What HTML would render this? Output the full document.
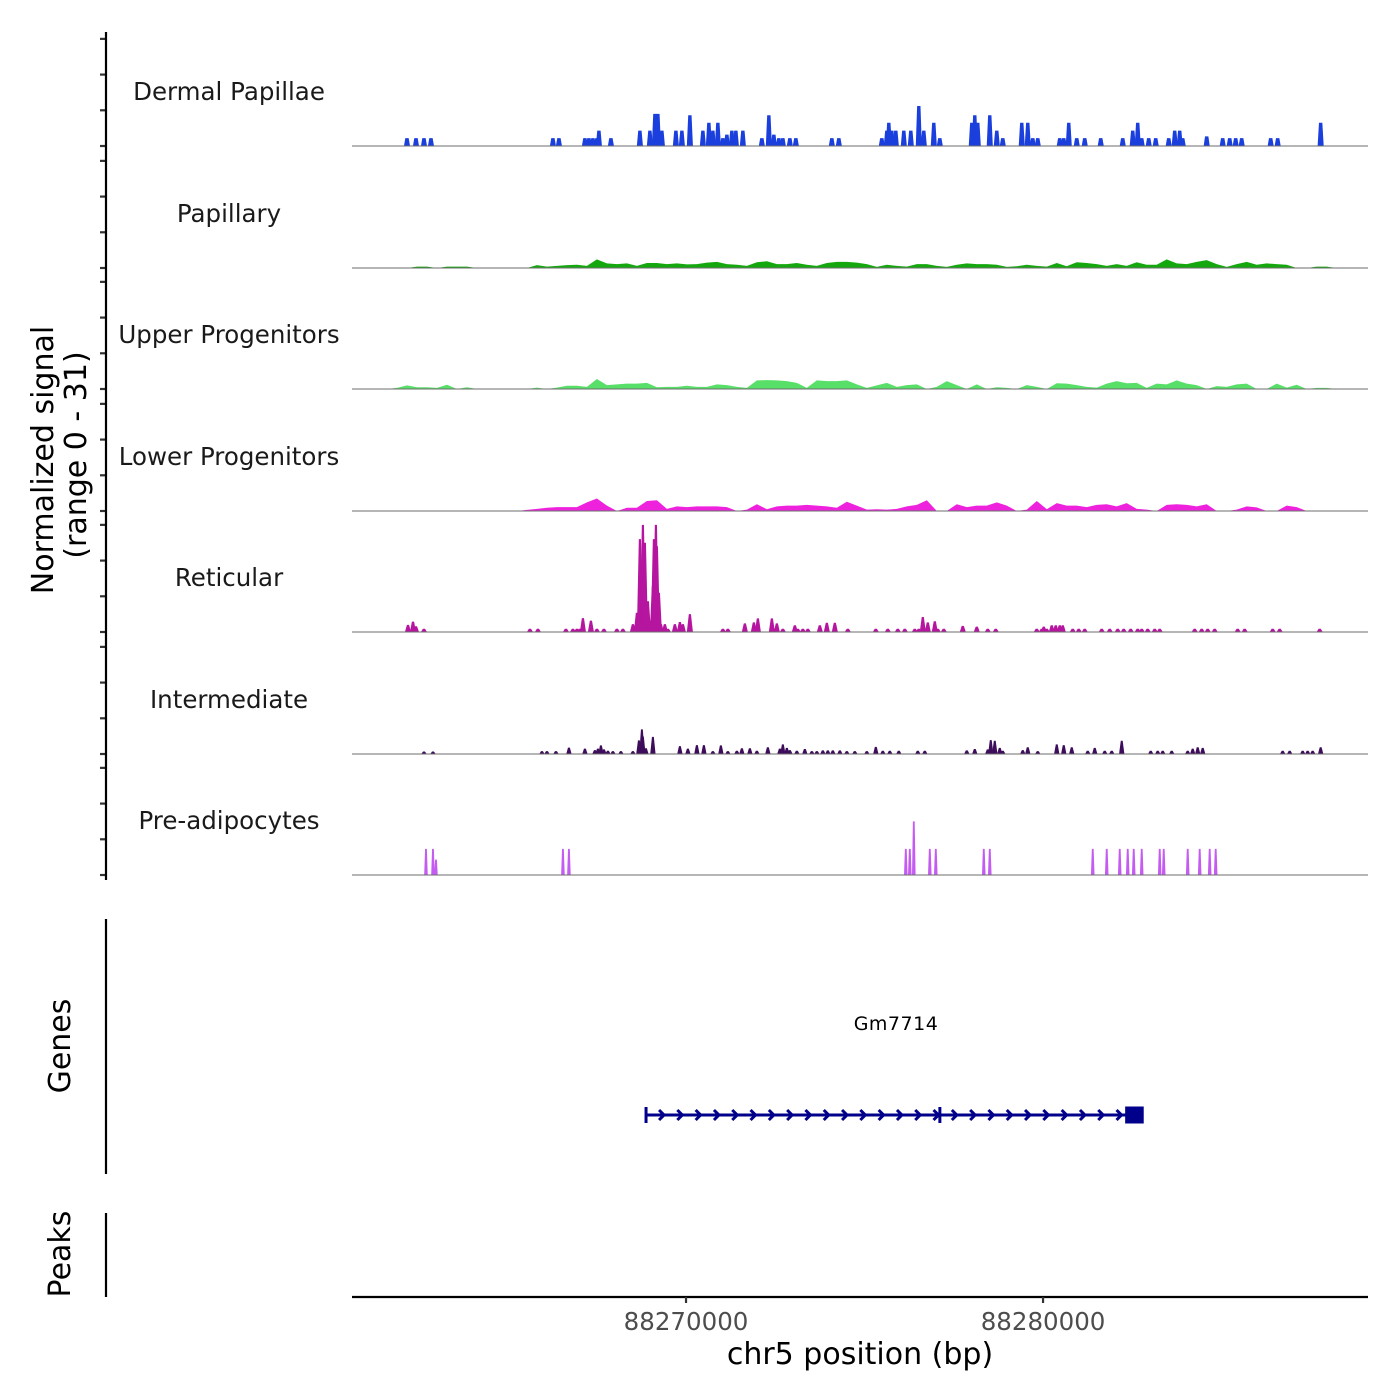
<!DOCTYPE html>
<html><head><meta charset="utf-8"><style>
html,body{margin:0;padding:0;background:#fff;}
svg{display:block;font-family:"DejaVu Sans","Liberation Sans",sans-serif;}
</style></head><body>
<svg id="chart" width="1400" height="1400" viewBox="0 0 1400 1400" xmlns="http://www.w3.org/2000/svg">
<rect width="1400" height="1400" fill="#fff"/>
<g id="tracks"></g>
<g id="axes"></g>
<g id="gene"></g>
</svg>
<script>
// ---- data ----
const regionStart = 88260644;
const regionEnd = 88289102;
const xTicks = [88270000, 88280000];
const xTickLabels = ["88270000", "88280000"];
const yTickValues = [0, 10, 20, 30];
const yMax = 31;
const trackNames = ["Dermal Papillae","Papillary","Upper Progenitors","Lower Progenitors","Reticular","Intermediate","Pre-adipocytes"];
const trackColors = ["#1a3fdc","#14a80e","#58df68","#ee22dd","#b5159f","#3d0c5a","#c45cf2"];
const binSize = 280;

// Dermal Papillae peaks (bp offset from regionStart, value)
const dermalPos = [1540,1792,2016,2212,5628,5796,6524,6636,6748,6860,6916,7252,8064,8344,8484,8568,8680,9072,9240,9464,9828,9996,10108,10248,10388,10500,10640,10752,10948,11480,11676,11816,11956,12068,12264,12432,13440,13636,14840,14980,15036,15120,15232,15456,15652,15876,16016,16296,16464,17360,17444,17528,17864,18060,18228,18760,18928,19068,19208,19824,19936,20076,20300,20524,20972,21588,21868,22008,22120,22316,22512,22876,23044,23184,23268,23940,24388,24584,24752,24920,25732,25928,27132];
const dermalVal = [2.2,2.2,2.2,2.2,2.2,2.2,2.2,2.2,2.2,2.2,4.3,2.2,4.3,4.3,9,9,4.3,4.3,4.3,8.6,4.3,6.5,4.3,6.5,2.2,3.2,4.3,4.3,4.3,2.2,8.6,3.2,2.2,2.2,2.2,2.2,2.2,2.2,2.2,4.3,6.5,4.3,4.3,4.3,4.3,11.2,4.3,6.5,2.2,6.5,8.6,6.5,8.6,4.3,2.2,6.5,6.5,2.2,2.2,2.2,2.2,6.5,2.2,2.2,2.2,2.2,4.3,6.5,2.2,2.2,2.2,2.2,4.3,4.3,2.2,2.7,2.2,2.2,2.2,2.2,2.2,2.2,6.5];

// Binned tracks (bin i starts at regionStart + i*binSize)
const papillaryBins = [0,0,0,0,0,0,.4,.4,0,.4,.4,.4,0,0,0,0,0,0,.8,.4,.6,.8,.9,.6,2.4,1.3,1.1,1.3,.6,1.4,1.4,1.1,1.3,1,1.1,1.5,1.7,1.1,.9,.6,1.6,1.9,1.1,1.1,1.4,.9,.6,1.4,1.7,1.7,1.5,1.1,.3,.9,.6,.4,1.1,1.1,.6,.3,.9,1.3,1.1,1.1,.9,.3,.5,.9,.6,.4,1.4,.5,1.6,1.4,1.1,.6,1.1,.6,1.6,.9,.9,2.4,1.3,1.1,1.7,2.2,1.1,.3,1.1,1.7,.9,1.3,1.1,.9,0,0,.4,.4,0,0,0,0];
const upperBins = [0,0,0,0,.3,1,.5,.5,.3,1.2,0,.5,0,0,0,0,0,0,.4,0,.4,.9,.9,.6,2.8,1.1,1.3,1.5,1.5,1.7,.5,.6,.6,.9,.6,.6,1.3,1.1,.6,.3,2.4,2.5,2.4,2.2,1.7,.3,2.4,2.2,2.2,2.4,1.3,.3,1,1.7,.6,1.1,1.3,0,.6,2.2,1.1,0,1.3,0,.5,.3,0,1.1,.6,0,1.6,1.5,1.1,.6,.4,1.5,2.2,1.6,1.7,.3,1.5,1.3,2.4,1.5,1.1,0,.8,.6,1.3,1.5,0,0,1.5,.4,1.2,0,.3,.3,0,0,0,0];
const lowerBins = [0,0,0,0,0,0,0,0,0,0,0,0,0,0,0,0,0,.3,.6,.9,1.1,1.1,1.1,2.4,3.5,1.5,0,.9,.9,2.8,3,.6,1.3,1.1,1.3,1.3,1.3,1.1,0,.4,1.9,.5,1.3,1.5,1.5,1.7,1.5,1.3,.9,2.6,1.5,.4,.5,.4,.6,1.3,1.7,3,0,0,1.9,1.1,1.5,1.5,2.4,1.5,0,.4,2.8,.5,2.2,1.5,1.5,1.1,1.7,1.9,1.3,2.2,.6,.4,0,1.7,1.9,1.7,1.3,1.9,0,0,.4,1.3,1,0,0,1.5,1.1,0,0,0,0,0,0,0];

// Reticular peaks
const reticularPos = [1568,1708,1792,2016,4984,5208,5992,6188,6300,6384,6468,6692,6860,7056,7420,7588,7868,7980,8064,8148,8204,8288,8344,8428,8456,8512,8540,8596,8652,8764,8848,9044,9184,9268,9464,10388,10528,11004,11256,11368,11760,11900,12068,12404,12488,12628,12768,13104,13300,13524,13888,14672,15008,15288,15484,15764,15876,15988,16128,16324,16408,16576,17108,17500,17808,18032,19180,19320,19376,19460,19600,19712,19824,19908,20188,20356,20524,21000,21224,21448,21616,21812,22008,22120,22288,22484,22624,23604,23800,23968,24164,24808,25004,25788,25984,27104];
const reticularVal = [2,2.9,1.6,.9,.9,.9,.9,.9,.9,.9,3.9,3.2,.9,.9,.9,.9,2.2,5.4,26,30,25,8.6,3.2,13,26,30,24,11,2.2,2.2,.9,2.2,2.8,2.2,5,.9,.9,2.4,2.7,3.8,3.8,2.4,.9,1.9,.9,.9,.9,1.9,2.6,2.6,.9,.9,.9,.9,.9,.9,.9,4.2,2.7,3,.9,.9,1.7,1.5,.9,.9,.9,.9,1.5,.9,1.9,1.9,1.9,1.9,.9,.9,.9,.9,.9,.9,.9,.9,.9,.9,.9,.9,.9,.9,.9,.9,.9,.9,.9,.9,.9,.9];

// Intermediate peaks
const intermediatePos = [2016,2268,5320,5460,5712,6076,6524,6804,6888,6972,7056,7168,7308,7532,7868,8036,8120,8148,8232,8428,9184,9408,9660,9856,10108,10332,10528,10780,10920,11144,11340,11648,11984,12068,12180,12264,12460,12684,12880,13020,13188,13328,13468,13664,13860,14084,14420,14672,14868,15064,15316,15848,16044,17220,17444,17808,17892,18004,18144,18228,18788,18928,19208,19740,19936,20160,20608,20804,21084,21280,21560,22372,22568,22708,22960,23408,23548,23688,23828,26068,26264,26628,26768,26908,27132];
const intermediateVal = [.7,.7,.8,.8,.8,1.8,1.5,1.1,1.5,2.4,1.3,.9,.8,.8,.8,3.8,6.9,4.9,1.6,4.8,2.2,1.5,2.5,2.5,.8,2.4,.8,.9,1.6,1.6,.9,1.9,1.5,2.7,1.7,1.1,.9,1.4,.8,.8,1,1,1,1,.8,.8,.8,2,.9,.9,.9,.9,.9,1,1.4,1.3,3.9,3.7,1.7,.9,1.1,1.9,.8,2.7,2.5,1.9,.9,1.7,.9,.9,3.7,.9,.9,.9,.9,.9,1.5,1.9,1.7,.9,.9,.9,.9,.9,1.9];

// Pre-adipocytes peaks
const preadipoPos = [2072,2268,2352,5908,6076,15512,15624,15736,16184,16352,17696,17864,20748,21140,21504,21728,21896,22120,22624,22736,23408,23744,24024,24192];
const preadipoVal = [7.3,7.3,4.3,7.3,7.3,7.3,7.3,15,7.3,7.3,7.3,7.3,7.3,7.3,7.3,7.3,7.3,7.3,7.3,7.3,7.3,7.3,7.3,7.3];

// Gene model
const geneName = "Gm7714";
const geneStart = 88268880;
const geneEnd = 88282800;
const exonStarts = [88282300];
const exonEnds = [88282820];
const intronMarks = [88268880, 88277110];

// ---- layout ----
const NS = "http://www.w3.org/2000/svg";
const plotL = 352, plotR = 1368;
const baselines = [146, 268, 389, 511, 632, 754, 875];
const trackH = 110.7;
function xScale(bp){ return plotL + (bp - regionStart) / (regionEnd - regionStart) * (plotR - plotL); }
function yScale(v, base){ return base - v / yMax * trackH; }
function mk(tag, attrs, parent){ const e = document.createElementNS(NS, tag); for (const k in attrs) e.setAttribute(k, attrs[k]); parent.appendChild(e); return e; }

const tracksG = document.getElementById('tracks');
const axesG = document.getElementById('axes');
const geneG = document.getElementById('gene');

function drawPeaks(g, pos, val, base, color, hwBp, topFrac){
  for (let i = 0; i < pos.length; i++){
    const c = xScale(regionStart + pos[i]);
    const hw = hwBp / 28.01;
    const top = yScale(val[i], base);
    const p = mk('polygon', {points: `${c-hw},${base} ${c-hw*topFrac},${top} ${c+hw*topFrac},${top} ${c+hw},${base}`, fill: color}, g);
    
    
  }
}
function drawBins(g, bins, base, color){
  let d = `M${plotL},${base}`;
  for (let i = 0; i < bins.length; i++){
    const cx = xScale(regionStart + i*binSize + binSize/2);
    d += ` L${cx.toFixed(1)},${yScale(bins[i], base).toFixed(1)}`;
  }
  d += ` L${plotR},${base} Z`;
  const p = mk('path', {d: d, fill: color}, g);
  
  
}

for (let t = 0; t < 7; t++){
  const base = baselines[t];
  const g = mk('g', {}, tracksG);
  
  
  const col = trackColors[t];
  if (t === 0) drawPeaks(g, dermalPos, dermalVal, base, col, 85, 0.55);
  if (t === 1) drawBins(g, papillaryBins, base, col);
  if (t === 2) drawBins(g, upperBins, base, col);
  if (t === 3) drawBins(g, lowerBins, base, col);
  if (t === 4) drawPeaks(g, reticularPos, reticularVal, base, col, 85, 0.35);
  if (t === 5) drawPeaks(g, intermediatePos, intermediateVal, base, col, 75, 0.35);
  if (t === 6) drawPeaks(g, preadipoPos, preadipoVal, base, col, 50, 0.5);
  const bl = mk('line', {x1: plotL, x2: plotR, y1: base, y2: base, stroke: '#6e6e6e', 'stroke-width': 1.1}, g);
  
  
  const lab = mk('text', {x: 229, y: base - 46, 'text-anchor': 'middle', 'font-size': 24.5, fill: '#1a1a1a'}, g);
  lab.textContent = trackNames[t];
  
  
  for (const v of yTickValues){
    const ty = yScale(v, base);
    const tk = mk('line', {x1: 100, x2: 106, y1: ty, y2: ty, stroke: '#333', 'stroke-width': 2.2}, axesG);
    
    
  }
}
// y axis line
let el = mk('line', {x1: 106, x2: 106, y1: 32, y2: 880, stroke: '#000', 'stroke-width': 2.2}, axesG);


el = mk('text', {transform: 'translate(53,460) rotate(-90)', 'text-anchor': 'middle', 'font-size': 30, fill: '#000'}, axesG);
el.textContent = 'Normalized signal';


el = mk('text', {transform: 'translate(86,455) rotate(-90)', 'text-anchor': 'middle', 'font-size': 30, fill: '#000'}, axesG);
el.textContent = '(range 0 - 31)';


// genes / peaks axes
el = mk('line', {x1: 106, x2: 106, y1: 919, y2: 1174, stroke: '#000', 'stroke-width': 2.2}, axesG);


el = mk('text', {transform: 'translate(70,1046) rotate(-90)', 'text-anchor': 'middle', 'font-size': 30, fill: '#000'}, axesG);
el.textContent = 'Genes';


el = mk('line', {x1: 106, x2: 106, y1: 1213, y2: 1297, stroke: '#000', 'stroke-width': 2.2}, axesG);


el = mk('text', {transform: 'translate(70,1254) rotate(-90)', 'text-anchor': 'middle', 'font-size': 30, fill: '#000'}, axesG);
el.textContent = 'Peaks';


// x axis
el = mk('line', {x1: plotL, x2: plotR, y1: 1297, y2: 1297, stroke: '#000', 'stroke-width': 2.2}, axesG);


for (let i = 0; i < xTicks.length; i++){
  const tx = xScale(xTicks[i]);
  const tk = mk('line', {x1: tx, x2: tx, y1: 1297, y2: 1303, stroke: '#333', 'stroke-width': 2.2}, axesG);
  
  
  const tl = mk('text', {x: tx, y: 1330, 'text-anchor': 'middle', 'font-size': 24.5, fill: '#4d4d4d'}, axesG);
  tl.textContent = xTickLabels[i];
  
  
}
el = mk('text', {x: 860, y: 1364, 'text-anchor': 'middle', 'font-size': 30, fill: '#000'}, axesG);
el.textContent = 'chr5 position (bp)';



// gene model
const gy = 1115;
const gx1 = xScale(geneStart), gx2 = xScale(geneEnd);
el = mk('line', {x1: gx1, x2: gx2, y1: gy, y2: gy, stroke: '#00008b', 'stroke-width': 3}, geneG);


for (let cx = gx1 + 17; cx < xScale(exonStarts[0]) - 3; cx += 18.3){
  const ch = mk('polyline', {points: `${cx-4},${gy-5} ${cx+1},${gy} ${cx-4},${gy+5}`, fill: 'none', stroke: '#00008b', 'stroke-width': 3}, geneG);
  
  
}
for (const m of intronMarks){
  const mx = xScale(m);
  const mm = mk('line', {x1: mx, x2: mx, y1: gy-8, y2: gy+8, stroke: '#00008b', 'stroke-width': 3}, geneG);
  
  
}
for (let i = 0; i < exonStarts.length; i++){
  const ex = mk('rect', {x: xScale(exonStarts[i]), y: gy-8.5, width: xScale(exonEnds[i]) - xScale(exonStarts[i]), height: 17, fill: '#00008b'}, geneG);
  
  
}
el = mk('text', {x: 896, y: 1030, 'text-anchor': 'middle', 'font-size': 19, fill: '#000', 'letter-spacing': '0.5'}, geneG);
el.textContent = geneName;


</script>
</body></html>
